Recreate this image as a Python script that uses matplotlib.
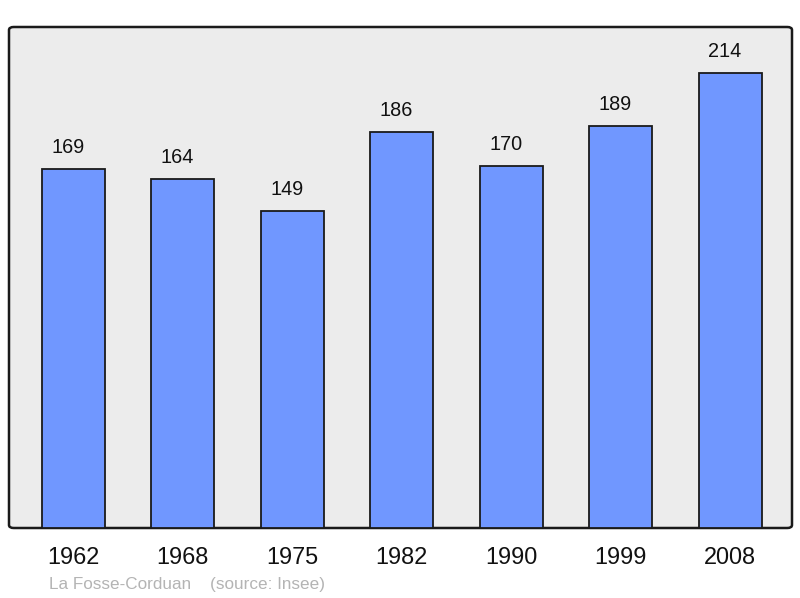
import matplotlib
matplotlib.use("Agg")
import matplotlib.pyplot as plt
from matplotlib.patches import FancyBboxPatch

years = ["1962", "1968", "1975", "1982", "1990", "1999", "2008"]
population = [169, 164, 149, 186, 170, 189, 214]
caption = "La Fosse-Corduan    (source: Insee)"

plt.rcParams['font.family'] = ['Liberation Sans', 'DejaVu Sans']

fig = plt.figure(figsize=(8, 5.98), dpi=100)
L, B, R, T = 9/800, 1 - 528/598, 792/800, 1 - 27/598
ax = fig.add_axes([L, B, R - L, T - B])
ax.set_facecolor("none")
frame = FancyBboxPatch((0, 0), 1, 1, boxstyle="round,pad=0,rounding_size=0.006",
                       transform=ax.transAxes, facecolor="#ececec",
                       edgecolor="#1a1a1a", linewidth=1.8, zorder=0.5,
                       clip_on=False)
ax.add_patch(frame)
for s in ax.spines.values():
    s.set_visible(False)

x = list(range(len(years)))
ax.bar(x, population, width=0.576, color="#7097ff", edgecolor="#1a1a1a",
       linewidth=1.3, zorder=2)
for xi, v in zip(x, population):
    ax.annotate(str(v), (xi, v), xytext=(-3.8, 15.5), textcoords="offset points",
                ha="center", va="center", fontsize=14.3, color="#111111")

ax.set_xlim(-0.5875, 6.566)
ax.set_ylim(0, 235.6)
ax.set_yticks([])
ax.set_xticks(x)
ax.set_xticklabels(years, fontsize=16.9, color="#111111")
ax.tick_params(axis="x", length=0, pad=13)

fig.text(49/800, 1 - 584/598, caption, fontsize=12.3, color="#b4b4b4",
         ha="left", va="center")

fig.savefig("out.png", dpi=100)
